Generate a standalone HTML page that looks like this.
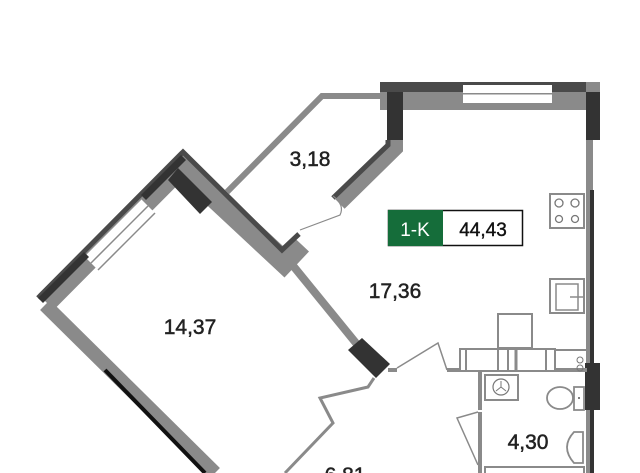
<!DOCTYPE html>
<html><head><meta charset="utf-8"><style>
html,body{margin:0;padding:0;background:#fff;width:640px;height:473px;overflow:hidden}
svg{display:block}
text{font-family:"Liberation Sans",sans-serif}
</style></head><body>
<svg width="640" height="473" viewBox="0 0 640 473" xmlns="http://www.w3.org/2000/svg">
<!-- top wall -->
<rect x="380" y="82" width="220" height="28" fill="#8a8a8a"/>
<rect x="380" y="82" width="220" height="10" fill="#4a4a4a"/>
<rect x="463" y="85" width="89" height="18" fill="#fff"/>
<rect x="463" y="93" width="89" height="1.5" fill="#8a8a8a"/>
<!-- right wall -->
<rect x="586" y="82" width="14" height="391" fill="#8a8a8a"/>
<rect x="586" y="92" width="14" height="48" fill="#333"/>
<rect x="593" y="140" width="7" height="333" fill="#fff"/>
<rect x="590" y="190" width="4" height="283" fill="#333"/>
<rect x="585" y="363" width="15" height="47" fill="#333"/>
<!-- balcony thin outline -->
<polyline points="383,96 322,96 227,192" fill="none" stroke="#8a8a8a" stroke-width="6"/>
<!-- balcony/living wall -->
<polyline points="395,138 395,148 339,203" fill="none" stroke="#8a8a8a" stroke-width="16" stroke-linejoin="miter"/>
<polyline points="388,140 388,145 333,198" fill="none" stroke="#4a4a4a" stroke-width="5"/>
<rect x="387" y="92" width="16" height="48" fill="#333"/>
<!-- door balcony -->
<path d="M300,230 L340,215 Q345,205 333,196" fill="none" stroke="#8a8a8a" stroke-width="1.2"/>
<!-- bedroom walls -->
<polyline points="46,302 181,166 284,262 301,244" fill="none" stroke="#8a8a8a" stroke-width="22" stroke-linejoin="miter"/>
<polyline points="38,298 183,152 282,250 299,234" fill="none" stroke="#4a4a4a" stroke-width="5" stroke-linejoin="miter"/>
<polygon points="178,168 212,202 200,214 168,180" fill="#333"/>
<!-- bedroom window -->
<polygon points="84,256 141,199 155,213 98,270" fill="#fff"/>
<line x1="84" y1="256" x2="141" y2="199" stroke="#8a8a8a" stroke-width="1.5"/>
<line x1="91" y1="263" x2="148" y2="206" stroke="#8a8a8a" stroke-width="1.5"/>
<line x1="98" y1="270" x2="155" y2="213" stroke="#8a8a8a" stroke-width="1.5"/>
<polygon points="38,298 84,252 89,257 43,303" fill="#333"/>
<polygon points="141,195 181,155 186,160 146,200" fill="#333"/>
<!-- bedroom lower left wall -->
<line x1="45" y1="305" x2="215" y2="473" stroke="#8a8a8a" stroke-width="14"/>
<line x1="105" y1="370" x2="205" y2="473" stroke="#111" stroke-width="4"/>
<!-- bedroom right thin wall -->
<line x1="290" y1="262" x2="360" y2="348" stroke="#8a8a8a" stroke-width="8"/>
<polygon points="348,350 362,338 390,364 376,378" fill="#333"/>
<line x1="388" y1="370" x2="397" y2="370" stroke="#8a8a8a" stroke-width="4"/>
<polyline points="397,368 438,343 447,370" fill="none" stroke="#8a8a8a" stroke-width="1.5"/>
<!-- corridor walls -->
<polyline points="374,378 368,387 320,398 333,423 285,473" fill="none" stroke="#8a8a8a" stroke-width="3"/>
<!-- bathroom walls -->
<rect x="447" y="368" width="140" height="4" fill="#8a8a8a"/>
<rect x="478" y="372" width="4" height="38" fill="#8a8a8a"/>
<rect x="478" y="412" width="4" height="61" fill="#8a8a8a"/>
<polyline points="478,412 457,418 478,465" fill="none" stroke="#8a8a8a" stroke-width="1.5"/>
<!-- furniture row -->
<rect x="460" y="349" width="95" height="22" fill="#fff" stroke="#8a8a8a" stroke-width="2"/>
<line x1="466" y1="349" x2="466" y2="371" stroke="#8a8a8a" stroke-width="2"/>
<line x1="498" y1="349" x2="498" y2="371" stroke="#8a8a8a" stroke-width="2"/>
<line x1="508" y1="349" x2="508" y2="371" stroke="#8a8a8a" stroke-width="2"/>
<line x1="516" y1="349" x2="516" y2="371" stroke="#8a8a8a" stroke-width="3"/>
<line x1="546" y1="349" x2="546" y2="371" stroke="#8a8a8a" stroke-width="2"/>
<rect x="498" y="314" width="34" height="34" fill="#fff" stroke="#8a8a8a" stroke-width="2"/>
<line x1="555" y1="350" x2="586" y2="350" stroke="#8a8a8a" stroke-width="2"/>
<!-- stove -->
<rect x="550" y="194" width="34" height="34" fill="#fff" stroke="#8a8a8a" stroke-width="2"/>
<circle cx="559" cy="203" r="4" fill="none" stroke="#777" stroke-width="1.3"/>
<circle cx="575" cy="203" r="4" fill="none" stroke="#777" stroke-width="1.3"/>
<circle cx="559" cy="219" r="3.5" fill="none" stroke="#777" stroke-width="1.3"/>
<circle cx="575" cy="219" r="3.5" fill="none" stroke="#777" stroke-width="1.3"/>
<!-- kitchen sink -->
<rect x="550" y="279" width="34" height="34" fill="#fff" stroke="#8a8a8a" stroke-width="2"/>
<rect x="556" y="284" width="22" height="26" fill="none" stroke="#8a8a8a" stroke-width="1.5"/>
<line x1="570" y1="297" x2="584" y2="297" stroke="#8a8a8a" stroke-width="1.5"/>
<!-- washing machine -->
<rect x="485" y="375" width="33" height="25" fill="#fff" stroke="#8a8a8a" stroke-width="2"/>
<circle cx="501" cy="387" r="8" fill="none" stroke="#777" stroke-width="1.2"/>
<path d="M501,387 v-6 M501,387 l5,4 M501,387 l-5,4" stroke="#777" stroke-width="1"/>
<!-- toilet -->
<ellipse cx="560" cy="398" rx="13" ry="11" fill="#fff" stroke="#8a8a8a" stroke-width="1.8"/>
<rect x="574" y="387" width="10" height="23" fill="#fff" stroke="#8a8a8a" stroke-width="1.8"/>
<circle cx="579" cy="398" r="1" fill="#555"/>
<circle cx="580" cy="360" r="3" fill="none" stroke="#777" stroke-width="1"/>
<circle cx="580" cy="368" r="3" fill="none" stroke="#777" stroke-width="1"/>
<!-- bath sink -->
<path d="M583,432 L574,432 Q560,447 574,463 L583,463 Z" fill="#fff" stroke="#8a8a8a" stroke-width="1.8"/>
<rect x="485" y="467" width="99" height="10" fill="none" stroke="#8a8a8a" stroke-width="2"/>
<!-- badge -->
<rect x="388.5" y="210.5" width="134" height="35" fill="#fff" stroke="#111" stroke-width="1.5"/>
<rect x="388" y="210" width="55" height="36" fill="#156d3a"/>
<text x="415" y="236" font-size="19" fill="#fff" text-anchor="middle">1-K</text>
<text x="483" y="236" font-size="19" fill="#111" text-anchor="middle" stroke="#111" stroke-width="0.4">44,43</text>
<!-- labels -->
<g fill="#222" stroke="#222" stroke-width="0.5" font-size="21" text-anchor="middle">
<text x="310" y="166">3,18</text>
<text x="395" y="298">17,36</text>
<text x="190" y="334">14,37</text>
<text x="528" y="449">4,30</text>
<text x="345" y="482">6,81</text>
</g>
</svg>
</body></html>
